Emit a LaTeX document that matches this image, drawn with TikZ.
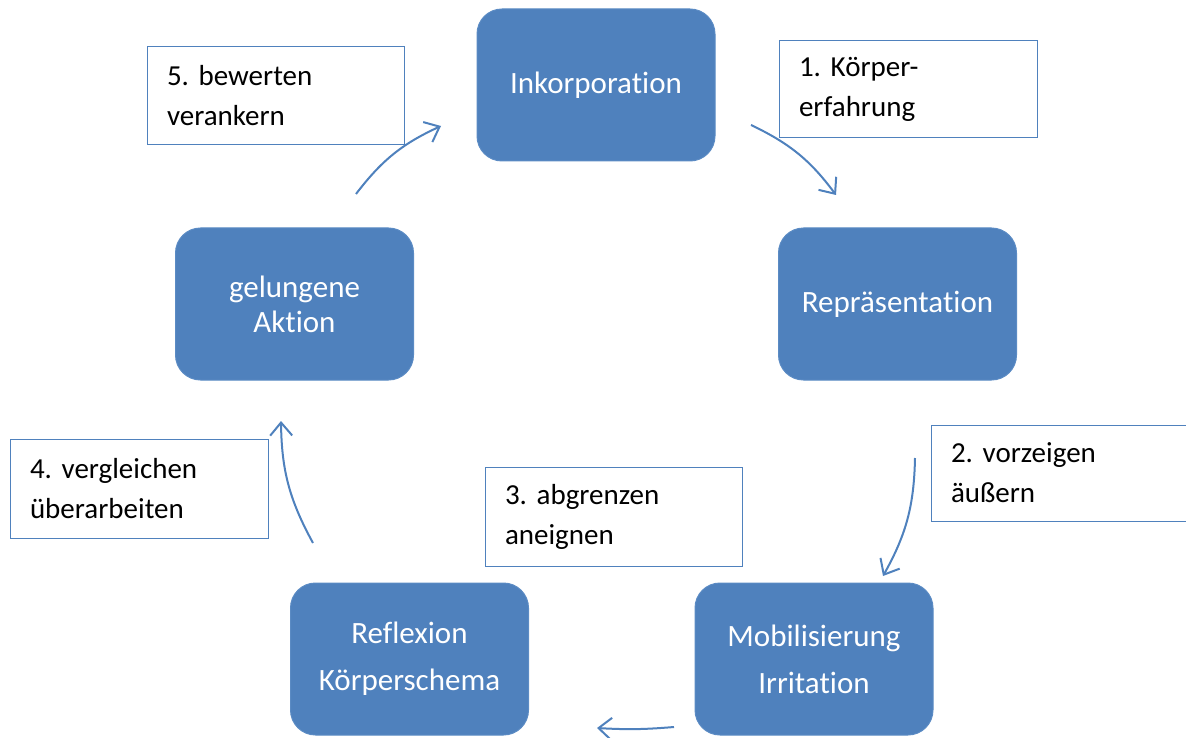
\documentclass[tikz,border=0pt]{standalone}
\usepackage{fontspec}
\setmainfont{Carlito}[Ligatures=NoCommon]
\frenchspacing
\usetikzlibrary{arrows.meta}
\definecolor{accent}{HTML}{4F81BD}
\definecolor{accentline}{HTML}{5B8BC4}
\tikzset{
  stage/.style={draw=accentline, line width=1pt, fill=accent, rounded corners=25pt,
    minimum width=238pt, minimum height=152pt, inner sep=0pt, text=white,
    align=center, font=\fontsize{31}{47}\selectfont},
  note/.style={draw=accent, line width=1pt, fill=white, inner xsep=20pt, inner ysep=0pt,
    align=left, font=\fontsize{29}{40}\selectfont, text=black},
  flow/.style={draw=accent, line width=2pt, -{Straight Barb[length=13pt,width=22pt,line width=2pt]}}
}
\begin{document}
\begin{tikzpicture}[x=1pt,y=-1pt]
\useasboundingbox (0,0) rectangle (1186,738);
% stages
\node[stage] (ink) at (596,85) {Inkorporation};
\node[stage] (rep) at (897.5,304) {Repräsentation};
\node[stage] (mob) at (814,659) {Mobilisierung\\Irritation};
\node[stage] (ref) at (409.5,659) {Reflexion\\Körperschema};
\node[stage, font=\fontsize{31}{35}\selectfont] (akt) at (294.5,304) {gelungene\\Aktion};
% notes
\node[note, minimum width=258pt, minimum height=97pt, text width=218pt] (n1) at (908,89.5) {\raisebox{-3pt}{1. Körper-}\\\raisebox{-3pt}{erfahrung}};
\node[note, minimum width=256pt, minimum height=96pt, text width=216pt] (n2) at (1059,473) {2. vorzeigen\\äußern};
\node[note, minimum width=257pt, minimum height=99pt, text width=217pt] (n3) at (613.5,516.5) {3. abgrenzen\\aneignen};
\node[note, minimum width=258pt, minimum height=99pt, text width=218pt] (n4) at (139,488.5) {4. vergleichen\\überarbeiten};
\node[note, minimum width=257pt, minimum height=98pt, text width=217pt] (n5) at (275.5,96) {5. bewerten\\verankern};
% arrow end points
\coordinate (a1s) at (751,125); \coordinate (a1e) at (836,195);
\coordinate (a2s) at (915,458); \coordinate (a2e) at (883,576);
\coordinate (a3s) at (674,727); \coordinate (a3e) at (597,728);
\coordinate (a4s) at (313,543); \coordinate (a4e) at (281,421);
\coordinate (a5s) at (356,194); \coordinate (a5e) at (441,126);
\draw[flow] (a1s) to[bend left=14] (a1e);
\draw[flow] (a2s) to[bend left=14] (a2e);
\draw[flow] (a3s) to[bend left=4] (a3e);
\draw[flow] (a4s) to[bend left=14] (a4e);
\draw[flow] (a5s) to[bend left=14] (a5e);
\end{tikzpicture}
\end{document}
